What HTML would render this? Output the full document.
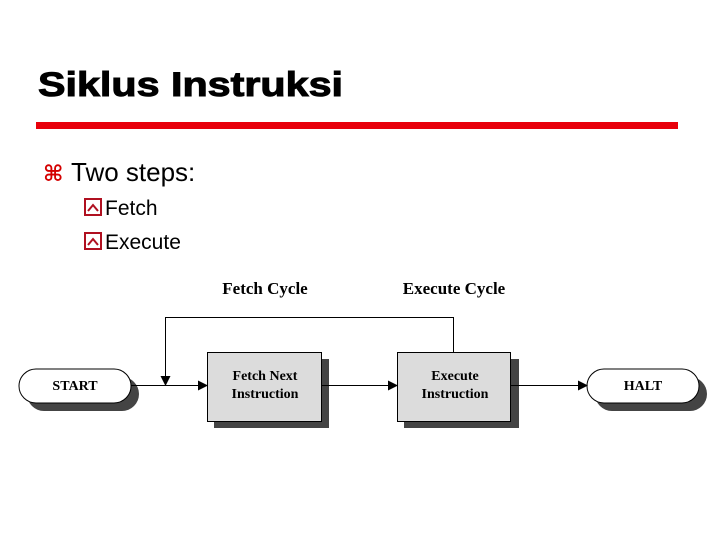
<!DOCTYPE html>
<html><head><meta charset="utf-8"><style>
html,body{margin:0;padding:0;background:#fff;}
body{width:720px;height:540px;overflow:hidden;}
</style></head><body>
<svg width="720" height="540" xmlns="http://www.w3.org/2000/svg">
<defs>
<marker id="a" markerWidth="10" markerHeight="10" refX="9" refY="5" orient="auto" markerUnits="userSpaceOnUse">
<path d="M0,0 L10,5 L0,10 z" fill="#000"/></marker>
</defs>
<text x="38" y="96" font-family="Liberation Sans, sans-serif" font-weight="bold" font-size="34" textLength="305" lengthAdjust="spacingAndGlyphs" stroke="#000" stroke-width="1">Siklus Instruksi</text>
<rect x="36" y="122" width="642" height="7" fill="#e8000b"/>
<text x="43" y="181" font-family="DejaVu Sans, sans-serif" font-size="22" fill="#d40000" font-weight="bold">⌘</text>
<text x="71" y="181" font-family="Liberation Sans, sans-serif" font-size="26">Two steps:</text>
<g fill="none" stroke="#b01020" stroke-width="2">
<rect x="85" y="199" width="16" height="16"/><path d="M88,211 L93,205 L98,211"/>
<rect x="85" y="233" width="16" height="16"/><path d="M88,245 L93,239 L98,245"/>
</g>
<text x="105" y="215" font-family="Liberation Sans, sans-serif" font-size="21">Fetch</text>
<text x="105" y="249" font-family="Liberation Sans, sans-serif" font-size="21">Execute</text>

<g font-family="Liberation Serif, serif" font-weight="bold" text-anchor="middle">
<text x="265" y="294" font-size="17">Fetch Cycle</text>
<text x="454" y="294" font-size="17">Execute Cycle</text>
</g>
<!-- shadows -->
<rect x="27" y="377" width="112" height="34" rx="17" fill="#444"/>
<rect x="595" y="377" width="112" height="34" rx="17" fill="#444"/>
<rect x="214" y="359" width="115" height="69" fill="#444"/>
<rect x="404" y="359" width="115" height="69" fill="#444"/>
<!-- shapes -->
<rect x="19" y="369" width="112" height="34" rx="17" fill="#fff" stroke="#000" stroke-width="1"/>
<rect x="587" y="369" width="112" height="34" rx="17" fill="#fff" stroke="#000" stroke-width="1"/>
<rect x="207.5" y="352.5" width="114" height="69" fill="#dcdcdc" stroke="#000" stroke-width="1"/>
<rect x="397.5" y="352.5" width="113" height="69" fill="#dcdcdc" stroke="#000" stroke-width="1"/>
<!-- connectors -->
<g stroke="#000" stroke-width="1" fill="none">
<line x1="131" y1="385.5" x2="207" y2="385.5" marker-end="url(#a)"/>
<line x1="321" y1="385.5" x2="397" y2="385.5" marker-end="url(#a)"/>
<line x1="510" y1="385.5" x2="587" y2="385.5" marker-end="url(#a)"/>
<path d="M453.5,352 V317.5 H165.5 V385" marker-end="url(#a)"/>
</g>
<g font-family="Liberation Serif, serif" font-weight="bold" font-size="14" text-anchor="middle">
<text x="75" y="390">START</text>
<text x="643" y="390">HALT</text>
<text x="265" y="380">Fetch Next</text>
<text x="265" y="398">Instruction</text>
<text x="455" y="380">Execute</text>
<text x="455" y="398">Instruction</text>
</g>
</svg>
</body></html>
